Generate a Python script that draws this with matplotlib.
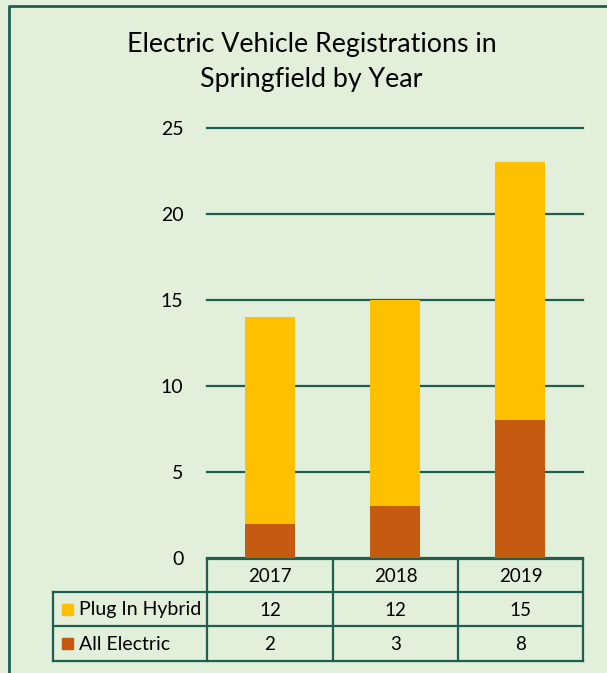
import matplotlib.pyplot as plt
from matplotlib.patches import Rectangle

years = ["2017", "2018", "2019"]
series_names = ["Plug In Hybrid", "All Electric"]
plug_in_hybrid = [12, 12, 15]
all_electric = [2, 3, 8]
colors = {"Plug In Hybrid": "#FFC000", "All Electric": "#C55A11"}

bg = "#E2EFDA"
green = "#1E5F4F"
W, H = 607, 673

plt.rcParams['font.family'] = ['Lato', 'DejaVu Sans']

fig = plt.figure(figsize=(W / 100, H / 100), dpi=100)
fig.patch.set_facecolor(bg)

# overlay in pixel coordinates for frame, title and data table
ov = fig.add_axes([0, 0, 1, 1])
ov.set_xlim(0, W)
ov.set_ylim(H, 0)
ov.axis("off")
ov.patch.set_alpha(0)

# chart frame (runs off the right/bottom edge)
ov.plot([8.5, 8.5, W + 5], [H + 5, 5.5, 5.5], color=green, lw=2)

ov.text(311.5, 52, "Electric Vehicle Registrations in", ha="center", va="baseline", fontsize=19.3)
ov.text(311.5, 87, "Springfield by Year", ha="center", va="baseline", fontsize=19.3)

# main plot area
x0, x1, y0, y1 = 207, 583, 558, 128
ax = fig.add_axes([x0 / W, 1 - y0 / H, (x1 - x0) / W, (y0 - y1) / H])
ax.set_facecolor("none")
pos = range(len(years))
ax.bar(pos, all_electric, width=0.4, color=colors["All Electric"], zorder=3)
ax.bar(pos, plug_in_hybrid, width=0.4, bottom=all_electric,
       color=colors["Plug In Hybrid"], zorder=3)
ax.set_xlim(-0.5, len(years) - 0.5)
ax.set_ylim(0, 25)
ax.set_yticks([0, 5, 10, 15, 20, 25])
ax.yaxis.grid(True, color=green, lw=1.6, zorder=0)
for g in ax.yaxis.get_gridlines():
    g.set_clip_on(False)
ax.tick_params(axis="y", length=0, pad=17, labelsize=14)
ax.tick_params(axis="x", length=0, labelbottom=False)
for s in ax.spines.values():
    s.set_visible(False)

# data table
cols = [207, 333, 458, 583]
rows = [559, 592, 626, 661]
lab_x = 53
lw = 1.6
ov.plot([cols[0], cols[-1]], [rows[0], rows[0]], color=green, lw=lw)
for r in rows[1:]:
    ov.plot([lab_x, cols[-1]], [r, r], color=green, lw=lw)
for c in cols:
    ov.plot([c, c], [rows[0], rows[-1]], color=green, lw=lw)
ov.plot([lab_x, lab_x], [rows[1], rows[-1]], color=green, lw=lw)

fs = 13.5
for i, yr in enumerate(years):
    cx = (cols[i] + cols[i + 1]) / 2
    ov.text(cx, (rows[0] + rows[1]) / 2 + 1, yr, ha="center", va="center", fontsize=fs)
    ov.text(cx, (rows[1] + rows[2]) / 2 + 1, str(plug_in_hybrid[i]), ha="center", va="center", fontsize=fs)
    ov.text(cx, (rows[2] + rows[3]) / 2 + 1, str(all_electric[i]), ha="center", va="center", fontsize=fs)

for j, name in enumerate(series_names):
    cy = (rows[j + 1] + rows[j + 2]) / 2
    ov.add_patch(Rectangle((62, cy - 5.5), 11, 11, color=colors[name]))
    ov.text(79, cy + 1, name, ha="left", va="center", fontsize=14)

fig.savefig("out.png", dpi=100, facecolor=bg)
